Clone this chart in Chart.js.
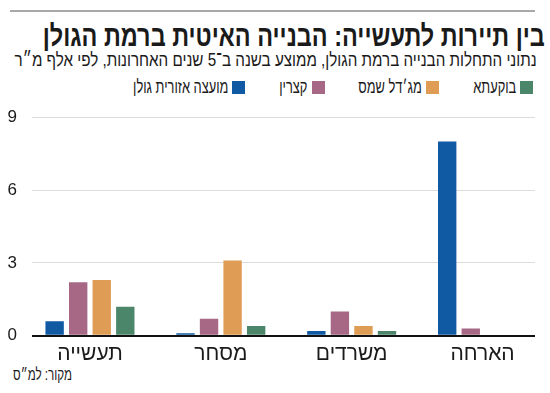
<!DOCTYPE html>
<html lang="he">
<head>
<meta charset="utf-8">
<script src="https://cdn.jsdelivr.net/npm/chart.js@4"></script>
<style>
    html, body { margin: 0; padding: 0; background: #fff; }
    body { width: 550px; height: 393px; position: relative; overflow: hidden;
           font-family: "Liberation Sans", sans-serif; color: #1a1a1a; }
    .rule { position: absolute; left: 10px; top: 10px; width: 525px; height: 2px; background: #a8a8a8; }
    .txt { position: absolute; white-space: nowrap; direction: rtl; transform-origin: right top; }
    .title { right: 5px; top: 22px; font-size: 29px; font-weight: bold; line-height: 29px; }
    .subtitle { right: 13px; top: 50px; font-size: 19px; line-height: 19px; }
    .source { left: 13px; top: 367px; font-size: 16px; line-height: 16px; transform-origin: left top; }
    .legend { position: absolute; right: 17px; top: 78px; display: flex; direction: rtl;
              gap: 34px; font-size: 18px; line-height: 19px; white-space: nowrap; }
    .legend .item { display: flex; align-items: center; }
    .legend .box { width: 13px; height: 13px; margin-left: 4px; }
    .legend .lbl { display: inline-block; overflow: visible; }
    .legend .lbl span { display: inline-block; transform-origin: right center; }
    .wrap { position: absolute; left: 0; top: 92px; width: 550px; height: 273px; }
</style>
</head>
<body>
<div class="rule"></div>
<div class="txt title" data-w="502">בין תיירות לתעשייה: הבנייה האיטית ברמת הגולן</div>
<div class="txt subtitle" data-w="522">נתוני התחלות הבנייה ברמת הגולן, ממוצע בשנה ב־5 שנים האחרונות, לפי אלף מ״ר</div>
<div class="legend" id="legend"></div>
<div class="wrap"><canvas id="chart"></canvas></div>
<div class="txt source" data-w="59">מקור: למ״ס</div>
<script>
const categories = ['תעשייה', 'מסחר', 'משרדים', 'הארחה'];
const golanCouncil = [0.6, 0.1, 0.2, 8.0];   // מועצה אזורית גולן
const katzrin = [2.2, 0.7, 1.0, 0.3];        // קצרין
const majdalShams = [2.3, 3.1, 0.4, 0];      // מג'דל שמס
const buqata = [1.2, 0.4, 0.2, 0];           // בוקעתא
const yTicks = [0, 3, 6, 9];

const FONT = '"Liberation Sans", sans-serif';

const series = [
    { label: 'מועצה אזורית גולן', data: golanCouncil, color: '#1059a3' },
    { label: 'קצרין', data: katzrin, color: '#a66884' },
    { label: 'מג׳דל שמס', data: majdalShams, color: '#df9c55' },
    { label: 'בוקעתא', data: buqata, color: '#4b856a' }
];

// squeeze the headline texts to the narrow width of the original
document.querySelectorAll('.txt').forEach(el => {
    const w = el.getBoundingClientRect().width;
    el.style.transform = `scaleX(${+el.dataset.w / w})`;
});

// legend in html, right to left, last series first
const legend = document.getElementById('legend');
[...series].reverse().forEach(s => {
    const item = document.createElement('div');
    item.className = 'item';
    item.innerHTML = `<div class="box" style="background:${s.color}"></div><div class="lbl"><span>${s.label}</span></div>`;
    legend.appendChild(item);
});
const spans = [...legend.querySelectorAll('.lbl span')];
const natural = spans.map(sp => sp.getBoundingClientRect().width);
const squeeze = 230 / natural.reduce((a, b) => a + b, 0);
spans.forEach((sp, i) => {
    sp.style.transform = `scaleX(${squeeze})`;
    sp.parentNode.style.width = (natural[i] * squeeze) + 'px';
    sp.parentNode.style.direction = 'rtl';
});

new Chart(document.getElementById('chart'), {
    type: 'bar',
    data: {
        labels: categories.map((c, i) => i),
        datasets: series.map(s => ({
            label: s.label,
            data: s.data,
            backgroundColor: s.color,
            borderWidth: 0,
            categoryPercentage: 0.72,
            barPercentage: 0.78
        }))
    },
    options: {
        responsive: true,
        maintainAspectRatio: false,
        animation: false,
        layout: { padding: { left: 0, right: 15, top: 0, bottom: 0 } },
        plugins: {
            legend: { display: false },
            tooltip: { enabled: false }
        },
        scales: {
            x: {
                type: 'linear',
                offset: false,
                min: -0.443,
                max: 3.401,
                afterBuildTicks: axis => { axis.ticks = categories.map((c, i) => ({ value: i })); },
                grid: { display: false },
                border: { display: false },
                ticks: {
                    autoSkip: false,
                    maxRotation: 0,
                    callback: v => categories[v],
                    color: '#1a1a1a',
                    font: { family: FONT, size: 21 },
                    padding: -2
                }
            },
            y: {
                min: 0,
                max: 9,
                afterFit: axis => { axis.width = 32; },
                afterBuildTicks: axis => { axis.ticks = yTicks.map(v => ({ value: v })); },
                border: { display: false },
                grid: {
                    drawTicks: false,
                    color: ctx => ctx.tick && ctx.tick.value === 0 ? '#111' : '#dcdcdc',
                    lineWidth: ctx => ctx.tick && ctx.tick.value === 0 ? 2 : 1
                },
                ticks: {
                    crossAlign: 'near',
                    padding: 15,
                    color: '#1a1a1a',
                    font: { family: FONT, size: 17 }
                }
            }
        }
    }
});
</script>
</body>
</html>
